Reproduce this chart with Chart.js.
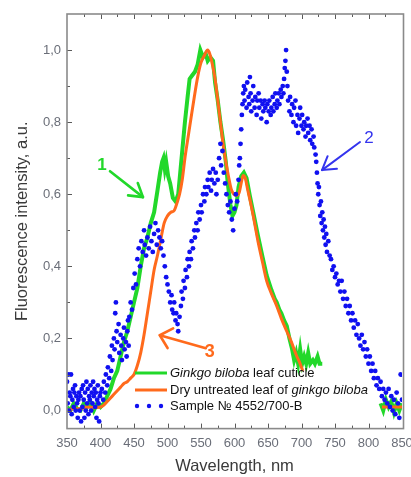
<!DOCTYPE html>
<html>
<head>
<meta charset="utf-8">
<script src="https://cdn.jsdelivr.net/npm/chart.js@4.4.1/dist/chart.umd.min.js"></script>
<style>
html,body{margin:0;padding:0;background:#fff;}
#wrap{width:411px;height:477px;position:relative;}
</style>
</head>
<body>
<div id="wrap"><canvas id="c" width="411" height="477"></canvas></div>
<script>
// ---------- tick labels ----------
const xTicks = [350,400,450,500,550,600,650,700,750,800,850];
const yTicks = [0,0.2,0.4,0.6,0.8,1.0];

// ---------- series labels (legend runs: [text, italic]) ----------
const legendRuns = [
  [['Ginkgo biloba', true], [' leaf cuticle', false]],
  [['Dry untreated leaf of ', false], ['ginkgo biloba', true]],
  [['Sample № 4552/700-B', false]]
];
const seriesNames = legendRuns.map(r => r.map(p => p[0]).join(''));

// ---------- series 1: Ginkgo biloba leaf cuticle (green) ----------
const cuticleX = [350,355,360,365,370,375,380,385,390,395,400,405,410,415,420,425,430,435,440,445,450,455,460,465,470,475,480,485,489,492,494,496,498,501,504,508,512,516,519,522,526,530,533,537,541,545,549,553,557,560,564,568,571,575,579,583,587,590,594,597,600,603,606,610,614,618,623,628,635,642,648,655,660,663,667,670,674,678,682,686,689,692,695,698,701,704,707,710,713,717,720,724,727,731,
  760,
  818,822,826,830,834,838,842,846,850];
const cuticleY = [0.01,0.0,0.02,0.005,0.0,0.02,0.01,0.025,0.0,0.02,0.01,0.02,0.04,0.06,0.09,0.11,0.15,0.19,0.22,0.26,0.30,0.34,0.40,0.45,0.48,0.52,0.55,0.61,0.66,0.69,0.70,0.67,0.69,0.65,0.63,0.59,0.58,0.60,0.66,0.72,0.80,0.87,0.92,0.93,0.94,0.96,1.0,0.98,0.99,0.97,0.98,0.97,0.91,0.86,0.80,0.75,0.69,0.63,0.57,0.54,0.55,0.57,0.62,0.65,0.66,0.645,0.595,0.55,0.485,0.425,0.375,0.335,0.31,0.30,0.28,0.27,0.25,0.235,0.20,0.17,0.14,0.16,0.13,0.17,0.13,0.15,0.13,0.16,0.13,0.14,0.13,0.15,0.13,0.13,
  null,
  0.02,0.0,0.03,0.01,0.025,-0.005,0.02,0.0,0.02];

// ---------- series 2: Dry untreated leaf (orange) ----------
const dryX = [350,360,370,380,390,400,405,410,415,420,425,430,435,440,445,450,455,460,465,470,475,480,485,490,495,500,505,510,514,518,522,526,530,535,540,545,550,555,560,563,567,571,575,579,583,587,591,595,599,603,607,611,613,616,620,623,628,635,642,648,655,663,670,678,685,692,698,702,
  760,
  820,830,840,850];
const dryY = [0.0,0.005,0.005,0.01,0.008,0.01,0.015,0.025,0.035,0.045,0.055,0.065,0.075,0.08,0.09,0.10,0.125,0.16,0.21,0.27,0.33,0.39,0.43,0.475,0.52,0.54,0.55,0.555,0.575,0.60,0.64,0.70,0.75,0.81,0.87,0.925,0.965,0.985,1.0,0.99,0.96,0.92,0.86,0.80,0.74,0.69,0.65,0.615,0.60,0.597,0.605,0.64,0.652,0.645,0.61,0.585,0.54,0.47,0.41,0.36,0.325,0.29,0.255,0.22,0.19,0.155,0.13,0.11,
  null,
  0.01,0.01,0.01,0.01];

// ---------- series 3: Sample № 4552/700-B (blue dots) ----------
const sampleX = [350,351,352,353,354,355,356,357,358,359,360,361,362,363,364,365,366,367,368,369,370,371,372,373,374,375,376,377,378,379,380,381,382,383,384,385,386,387,388,389,390,391,392,393,394,395,396,397,398,399,400,
  402,404,405,407,408,410,411,413,414,416,417,418,420,421,422,423,424,425,427,428,430,431,432,434,435,436,438,439,440,441,442,
  443,445,447,449,451,453,455,457,459,461,463,465,466,468,470,472,474,476,478,480,482,484,486,488,490,492,
  494,496,498,500,502,504,506,507,509,510,512,513,515,516,518,
  520,521,523,524,526,527,529,530,532,533,535,536,538,540,541,543,545,546,548,550,551,553,555,556,558,560,561,563,565,566,568,570,572,573,575,
  577,579,580,582,584,586,588,590,592,594,596,598,600,602,604,606,607,
  608,609,610,611,612,613,614,615,
  616,618,619,621,622,623,624,625,627,628,630,631,633,634,636,637,639,640,642,643,645,646,648,649,651,652,654,655,657,658,660,661,663,664,666,667,669,670,672,673,674,675,676,677,678,679,680,
  682,683,685,686,688,689,691,692,694,695,697,698,700,701,703,704,706,707,709,710,712,713,715,716,718,719,721,
  722,723,724,725,726,727,728,729,730,731,732,733,734,735,736,737,738,740,742,
  744,746,748,750,752,754,756,758,760,762,764,766,768,770,772,774,776,778,780,782,784,786,788,790,792,794,796,798,800,802,804,806,808,810,812,814,816,818,820,822,824,826,828,830,832,834,836,838,840,842,844,846,848,850];
const sampleY = [0.08,0.02,0.10,0.00,0.05,0.04,0.10,-0.01,0.03,0.06,0.01,0.05,0.07,0.00,0.04,0.02,-0.02,0.03,0.05,0.00,0.04,-0.03,0.06,0.01,0.07,0.03,-0.02,0.05,0.00,0.08,0.02,0.06,-0.01,0.04,0.03,0.07,0.00,0.05,0.02,0.08,0.04,0.06,0.01,0.05,-0.02,0.03,0.07,0.02,-0.03,0.04,0.05,
  0.06,0.03,0.08,0.05,0.10,0.07,0.12,0.09,0.15,0.11,0.18,0.14,0.20,0.17,0.27,0.30,0.22,0.19,0.24,0.16,0.21,0.18,0.14,0.20,0.23,0.17,0.19,0.15,0.22,0.25,0.18,
  0.26,0.30,0.28,0.34,0.38,0.35,0.42,0.45,0.40,0.47,0.44,0.50,0.46,0.43,0.48,0.45,0.51,0.47,0.44,0.49,0.52,0.46,0.50,0.48,0.45,0.47,
  0.43,0.40,0.37,0.35,0.33,0.30,0.32,0.28,0.27,0.30,0.25,0.27,0.24,0.22,0.26,
  0.29,0.33,0.31,0.36,0.34,0.39,0.37,0.42,0.40,0.44,0.42,0.47,0.45,0.50,0.48,0.52,0.50,0.55,0.53,0.57,0.55,0.60,0.58,0.62,0.60,0.64,0.62,0.66,0.61,0.64,0.67,0.63,0.66,0.60,0.64,
  0.70,0.74,0.68,0.72,0.66,0.63,0.60,0.57,0.55,0.58,0.53,0.50,0.56,0.60,0.58,0.64,0.68,
  0.70,0.74,0.78,0.82,0.85,0.88,0.90,0.86,
  0.89,0.84,0.91,0.87,0.85,0.925,0.88,0.83,0.86,0.90,0.84,0.87,0.82,0.86,0.88,0.84,0.86,0.81,0.85,0.83,0.86,0.84,0.80,0.85,0.83,0.86,0.82,0.84,0.87,0.83,0.85,0.88,0.84,0.86,0.88,0.85,0.89,0.87,0.90,0.88,0.92,0.95,0.97,1.0,0.94,0.90,0.86,
  0.83,0.87,0.82,0.85,0.80,0.84,0.86,0.79,0.82,0.77,0.81,0.84,0.79,0.82,0.78,0.80,0.76,0.79,0.81,0.77,0.79,0.75,0.78,0.74,0.76,0.73,0.71,
  0.69,0.66,0.63,0.60,0.62,0.57,0.54,0.58,0.52,0.55,0.50,0.53,0.48,0.51,0.46,0.49,0.44,0.47,0.43,
  0.42,0.39,0.40,0.37,0.38,0.35,0.36,0.33,0.36,0.31,0.33,0.29,0.31,0.27,0.29,0.25,0.27,0.23,0.25,0.21,0.24,0.20,0.18,0.21,0.17,0.19,0.15,0.17,0.13,0.15,0.11,0.13,0.09,0.11,0.07,0.09,0.06,0.08,0.04,0.06,0.03,0.05,0.02,0.06,0.01,0.04,0.00,0.03,-0.01,0.05,0.02,-0.02,0.10,0.03];

// ---------- annotations (data coordinates) ----------
const annotations = [
  {text:'1', label:[402.2,0.681], tail:[414.2,0.664], tip:[463.4,0.592]},
  {text:'2', label:[800.7,0.756], tail:[787.3,0.745], tip:[730.6,0.667]},
  {text:'3', label:[563.2,0.162], tail:[557.2,0.173], tip:[488.5,0.209]}
];

const toPts = (xs, ys) => xs.map((x, i) => ({x, y: ys[i]}));

const GREEN = '#22d82a', ORANGE = '#ff6a1c', BLUE = '#1010f0';
const annColors = [GREEN, '#3434ee', ORANGE];
const annFonts = ['bold 17px Arial, "Liberation Sans", sans-serif', '17px Arial, "Liberation Sans", sans-serif', 'bold 18px Arial, "Liberation Sans", sans-serif'];
const FONT = 'Arial, "Liberation Sans", sans-serif';

const decor = {
  id: 'decor',
  afterDatasetsDraw(chart) {
    const {ctx, chartArea: a, scales: {x, y}} = chart;
    ctx.save();
    // inner tick marks
    ctx.strokeStyle = '#5a5a5a';
    ctx.lineWidth = 1;
    ctx.beginPath();
    for (let v = 375; v < 850; v += 25) {
      const px = Math.round(x.getPixelForValue(v)) + 0.5;
      const L = v % 50 === 0 ? 5 : 3;
      ctx.moveTo(px, a.bottom); ctx.lineTo(px, a.bottom - L);
      ctx.moveTo(px, a.top); ctx.lineTo(px, a.top + L);
    }
    for (let k = 0; k <= 10; k++) {
      const py = Math.round(y.getPixelForValue(k / 10)) + 0.5;
      const L = k % 2 === 0 ? 5 : 3;
      ctx.moveTo(a.left, py); ctx.lineTo(a.left + L, py);
    }
    ctx.stroke();
    // frame
    ctx.strokeStyle = '#8a8a8a';
    ctx.lineWidth = 1.6;
    ctx.strokeRect(a.left, a.top, a.right - a.left + 1.5, a.bottom - a.top);

    // legend (rows: cuticle, dry leaf, sample)
    const lx0 = 135, lx1 = 167, tx = 170;
    const rowsY = [373, 390, 406];
    const ds = chart.data.datasets;
    const rowDs = [2, 1, 0];
    rowsY.forEach((ry, i) => {
      const d = ds[rowDs[i]];
      if (i < 2) {
        ctx.strokeStyle = d.borderColor;
        ctx.lineWidth = 3;
        ctx.beginPath(); ctx.moveTo(lx0, ry); ctx.lineTo(lx1, ry); ctx.stroke();
      } else {
        ctx.fillStyle = d.backgroundColor;
        [137, 149, 161].forEach(cx => { ctx.beginPath(); ctx.arc(cx, ry, 2.2, 0, Math.PI * 2); ctx.fill(); });
      }
      let cx = tx;
      ctx.fillStyle = '#111';
      ctx.textBaseline = 'middle';
      ctx.textAlign = 'left';
      legendRuns[i].forEach(([t, it]) => {
        ctx.font = (it ? 'italic ' : '') + '13px ' + FONT;
        ctx.fillText(t, cx, ry);
        cx += ctx.measureText(t).width;
      });
    });

    // annotations
    annotations.forEach((an, i) => {
      const col = annColors[i];
      const lbx = x.getPixelForValue(an.label[0]), lby = y.getPixelForValue(an.label[1]);
      const t0x = x.getPixelForValue(an.tail[0]), t0y = y.getPixelForValue(an.tail[1]);
      const t1x = x.getPixelForValue(an.tip[0]), t1y = y.getPixelForValue(an.tip[1]);
      ctx.fillStyle = col;
      ctx.font = annFonts[i];
      ctx.textAlign = 'center';
      ctx.textBaseline = 'middle';
      ctx.fillText(an.text, lbx, lby);
      ctx.strokeStyle = col;
      ctx.lineWidth = i === 1 ? 2 : 2.6;
      ctx.lineCap = 'round';
      ctx.lineJoin = 'round';
      ctx.beginPath(); ctx.moveTo(t0x, t0y); ctx.lineTo(t1x, t1y); ctx.stroke();
      const ang = Math.atan2(t0y - t1y, t0x - t1x);
      const hl = 15, ha = i === 2 ? 0.75 : 0.55;
      ctx.beginPath();
      ctx.moveTo(t1x + hl * Math.cos(ang - ha), t1y + hl * Math.sin(ang - ha));
      ctx.lineTo(t1x, t1y);
      ctx.lineTo(t1x + hl * Math.cos(ang + ha), t1y + hl * Math.sin(ang + ha));
      ctx.stroke();
    });
    ctx.restore();
  }
};

new Chart(document.getElementById('c'), {
  data: {
    datasets: [
      {type: 'scatter', label: seriesNames[2], data: toPts(sampleX, sampleY), backgroundColor: BLUE, borderColor: BLUE,
       pointRadius: 2.4, pointBorderWidth: 0, pointHoverRadius: 2.4, order: 0},
      {type: 'line', label: seriesNames[1], data: toPts(dryX, dryY), borderColor: ORANGE, backgroundColor: ORANGE,
       borderWidth: 3, pointRadius: 0, tension: 0.3, cubicInterpolationMode: 'monotone', spanGaps: false, order: 1},
      {type: 'line', label: seriesNames[0], data: toPts(cuticleX, cuticleY), borderColor: GREEN, backgroundColor: GREEN,
       borderWidth: 4, pointRadius: 0, tension: 0, spanGaps: false, order: 2}
    ]
  },
  options: {
    responsive: false,
    devicePixelRatio: 1,
    animation: false,
    layout: {padding: {top: 14, right: 9, left: 0, bottom: 0}},
    plugins: {legend: {display: false}, tooltip: {enabled: false}},
    scales: {
      x: {
        type: 'linear', min: 350, max: 850,
        afterBuildTicks: s => { s.ticks = xTicks.map(v => ({value: v})); },
        afterFit: s => { s.height = 48.4; s.paddingLeft = 0; s.paddingRight = 0; },
        ticks: {font: {family: FONT, size: 13}, color: '#6a6e78', padding: 7, maxRotation: 0, autoSkip: false,
                callback: v => String(v)},
        grid: {drawOnChartArea: false, drawTicks: false},
        border: {display: false},
        title: {display: true, text: 'Wavelength, nm', font: {family: FONT, size: 16.5}, color: '#3a3a3a', padding: {top: 0, bottom: 1}}
      },
      y: {
        type: 'linear', min: -0.05, max: 1.1,
        afterBuildTicks: s => { s.ticks = yTicks.map(v => ({value: v})); },
        afterFit: s => { s.width = 67; s.paddingTop = 0; s.paddingBottom = 0; },
        ticks: {font: {family: FONT, size: 13}, color: '#6a6e78', padding: 6,
                callback: v => Number(v).toFixed(1).replace('.', ',')},
        grid: {drawOnChartArea: false, drawTicks: false},
        border: {display: false},
        title: {display: true, text: 'Fluorescence intensity, a.u.', font: {family: FONT, size: 16.5}, color: '#3a3a3a', padding: {top: 13, bottom: 0}}
      }
    }
  },
  plugins: [decor]
});
</script>
</body>
</html>
